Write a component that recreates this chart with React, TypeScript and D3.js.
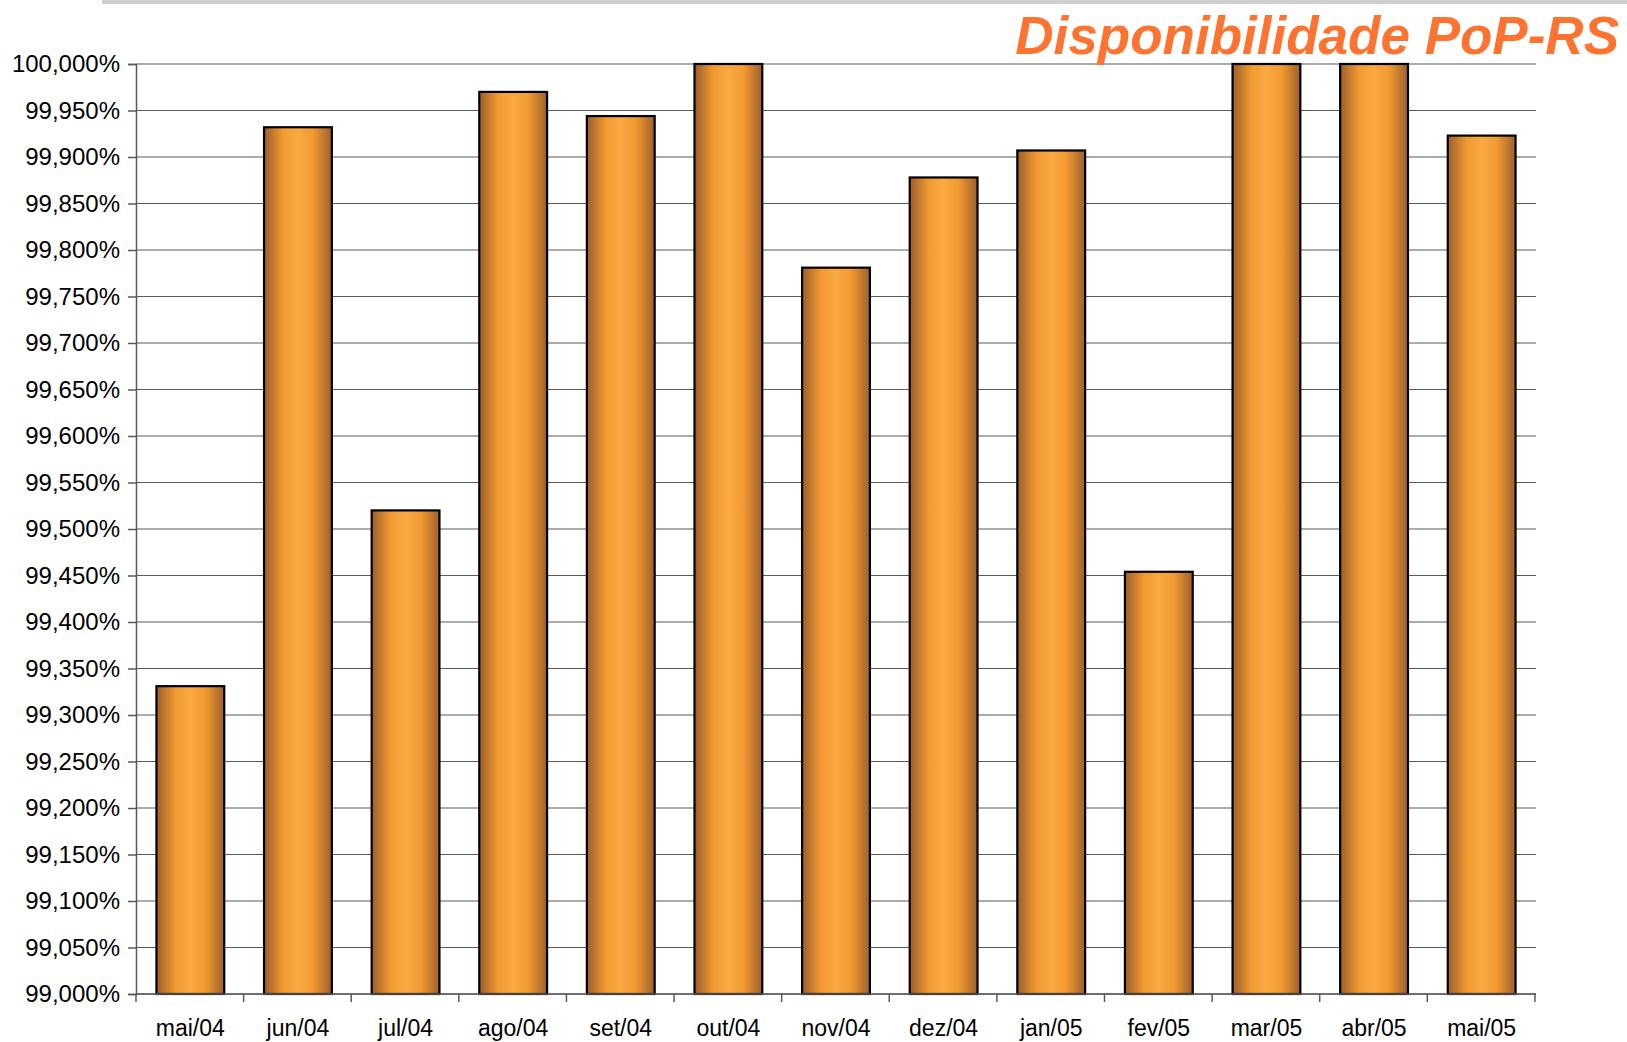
import { useEffect, useRef } from "react";
import * as d3 from "d3";

const months = [
  "mai/04", "jun/04", "jul/04", "ago/04", "set/04", "out/04", "nov/04",
  "dez/04", "jan/05", "fev/05", "mar/05", "abr/05", "mai/05",
];
const availability = [
  99.331, 99.932, 99.52, 99.97, 99.944, 100, 99.781,
  99.878, 99.907, 99.454, 100, 100, 99.923,
];
const yTicks = d3.range(0, 21).map((i) => 99 + i * 0.05);
const title = "Disponibilidade PoP-RS";

const W = 1627;
const H = 1042;
const margin = { left: 136, right: 91, top: 64, bottom: 48 };

export default function App() {
  const svgRef = useRef<SVGSVGElement | null>(null);

  useEffect(() => {
    if (!svgRef.current) return;
    const svg = d3.select(svgRef.current);
    svg.selectAll("*").remove();

    const x = d3
      .scaleBand()
      .domain(months)
      .range([margin.left, W - margin.right])
      .paddingInner(0.37)
      .paddingOuter(0.19);
    const y = d3
      .scaleLinear()
      .domain([99, 100])
      .range([H - margin.bottom, margin.top]);

    // bar gradient
    const defs = svg.append("defs");
    const grad = defs
      .append("linearGradient")
      .attr("id", "barGrad")
      .attr("x1", "0%")
      .attr("x2", "100%")
      .attr("y1", "0%")
      .attr("y2", "0%");
    [
      ["0%", "#9a5e2e"],
      ["28%", "#f29a30"],
      ["50%", "#f9aa44"],
      ["72%", "#f29a30"],
      ["100%", "#9e602e"],
    ].forEach(([o, c]) => grad.append("stop").attr("offset", o).attr("stop-color", c));

    // top gray rule
    svg
      .append("rect")
      .attr("x", 102)
      .attr("y", 0)
      .attr("width", W - 102)
      .attr("height", 4)
      .attr("fill", "#cfcfcf");

    // gridlines
    svg
      .append("g")
      .selectAll("line")
      .data(yTicks)
      .enter()
      .append("line")
      .attr("x1", margin.left)
      .attr("x2", W - margin.right)
      .attr("y1", (d) => y(d))
      .attr("y2", (d) => y(d))
      .attr("stroke", "#5a5a5a")
      .attr("stroke-width", 1.2);

    // Y axis
    const yAxis = svg
      .append("g")
      .attr("transform", `translate(${margin.left},0)`)
      .call(
        d3
          .axisLeft(y)
          .tickValues(yTicks)
          .tickSize(8)
          .tickPadding(8)
          .tickFormat((d) => (+d).toFixed(3).replace(".", ",") + "%")
      );
    yAxis.select(".domain").attr("stroke", "#5a5a5a").attr("stroke-width", 1.5);
    yAxis.selectAll(".tick line").attr("stroke", "#5a5a5a").attr("stroke-width", 1.5);
    yAxis
      .selectAll("text")
      .attr("font-family", "Liberation Sans, Arial, sans-serif")
      .attr("font-size", 24)
      .attr("fill", "#000");

    // Bars
    svg
      .append("g")
      .selectAll("rect")
      .data(availability)
      .enter()
      .append("rect")
      .attr("x", (_, i) => x(months[i]) || 0)
      .attr("y", (d) => y(d))
      .attr("width", x.bandwidth())
      .attr("height", (d) => y(99) - y(d))
      .attr("fill", "url(#barGrad)")
      .attr("stroke", "#000")
      .attr("stroke-width", 2.2);

    // X Axis
    const step = x.step();
    const boundaries = d3.range(0, months.length + 1).map((i) => margin.left + i * step);
    const xAxis = svg.append("g");
    xAxis
      .append("line")
      .attr("x1", margin.left)
      .attr("x2", W - margin.right)
      .attr("y1", y(99))
      .attr("y2", y(99))
      .attr("stroke", "#5a5a5a")
      .attr("stroke-width", 1.5);
    xAxis
      .selectAll("line.tk")
      .data(boundaries)
      .enter()
      .append("line")
      .attr("class", "tk")
      .attr("x1", (d) => d)
      .attr("x2", (d) => d)
      .attr("y1", y(99))
      .attr("y2", y(99) + 8)
      .attr("stroke", "#5a5a5a")
      .attr("stroke-width", 1.5);
    xAxis
      .selectAll("text")
      .data(months)
      .enter()
      .append("text")
      .attr("x", (d) => (x(d) || 0) + x.bandwidth() / 2)
      .attr("y", y(99) + 42)
      .attr("text-anchor", "middle")
      .attr("font-family", "Liberation Sans, Arial, sans-serif")
      .attr("font-size", 23)
      .attr("fill", "#000")
      .text((d) => d);

    // Title
    svg
      .append("text")
      .attr("x", 1619)
      .attr("y", 54)
      .attr("text-anchor", "end")
      .attr("font-family", "Liberation Sans, Arial, sans-serif")
      .attr("font-size", 53)
      .attr("font-weight", "bold")
      .attr("font-style", "italic")
      .attr("fill", "#ff7330")
      .text(title);
  }, []);

  return (
    <svg
      ref={svgRef}
      width={W}
      height={H}
      style={{ position: "absolute", left: 0, top: 0, background: "#fff" }}
    ></svg>
  );
}
